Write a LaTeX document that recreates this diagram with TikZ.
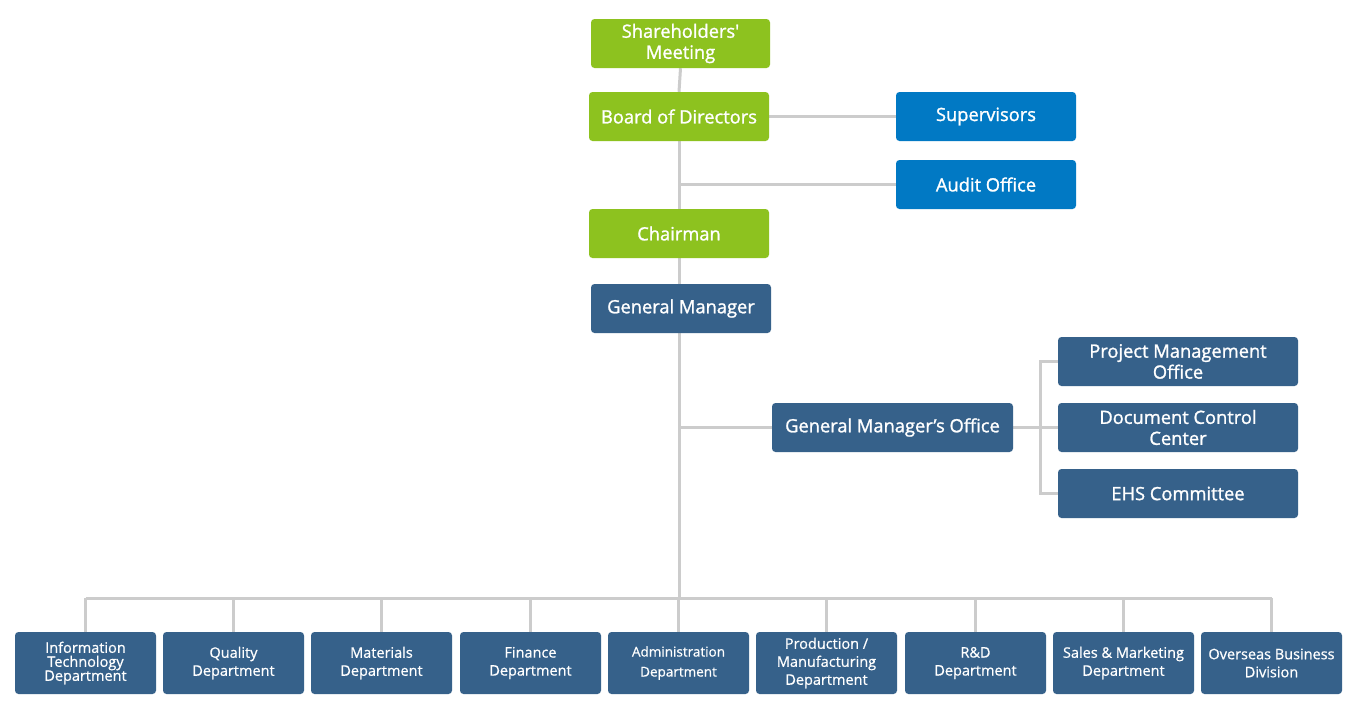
\documentclass[tikz,border=0pt]{standalone}
\usepackage{fontspec}
\setmainfont{Open Sans}
\newfontfamily\topfont[FakeBold=1.3]{Open Sans}
\newfontfamily\deptfont[FakeBold=0.7]{Open Sans}
\usetikzlibrary{backgrounds}
\definecolor{cgreen}{HTML}{8DC21F}
\definecolor{cblue}{HTML}{0179C4}
\definecolor{cdark}{HTML}{36618A}
\definecolor{cline}{HTML}{CCCCCC}
\tikzset{
  x=1pt,y=-1pt,
  box/.style={rounded corners=3.5pt, text=white, align=center, inner sep=0pt, font=\topfont\fontsize{18.3}{21}\selectfont},
  topbox/.style={box, minimum width=180pt, minimum height=49pt},
  greenbox/.style={topbox, fill=cgreen},
  bluebox/.style={topbox, fill=cblue},
  darkbox/.style={box, fill=cdark, minimum height=49pt},
  deptbox/.style={box, fill=cdark, minimum width=141pt, minimum height=62pt, font=\deptfont\fontsize{14.5}{18}\selectfont},
  conn/.style={draw=cline, line width=3pt}
}
\begin{document}
\begin{tikzpicture}
\useasboundingbox (0,0) rectangle (1349,710);
% top chain
\node[greenbox, minimum width=179pt] (sh) at (680.5,43.5) {Shareholders\textquotesingle\\Meeting};
\node[greenbox] (board) at (679,116.5) {Board of Directors};
\node[bluebox] (sup) at (986,116.5) {Supervisors};
\node[bluebox] (audit) at (986,184.5) {Audit Office};
\node[greenbox] (chair) at (679,233.5) {Chairman};
\node[darkbox, minimum width=180pt] (gm) at (681,308.5) {General Manager};
\node[darkbox, minimum width=241pt] (gmo) at (892.5,427.5) {General Manager’s Office};
\node[darkbox, minimum width=240pt] (pmo) at (1178,361.5) {Project Management\\Office};
\node[darkbox, minimum width=240pt] (dcc) at (1178,427.5) {Document Control\\Center};
\node[darkbox, minimum width=240pt] (ehs) at (1178,493.5) {EHS Committee};
% departments
\node[deptbox] (it) at (85.5,663) {Information\\[-4pt]Technology\\[-4pt]Department};
\node[deptbox] (qa) at (233.5,663) {Quality\\Department};
\node[deptbox] (mat) at (381.5,663) {Materials\\Department};
\node[deptbox] (fin) at (530.5,663) {Finance\\Department};
\node[deptbox, font=\deptfont\fontsize{13.5}{20}\selectfont] (adm) at (678.5,663) {Administration\\Department};
\node[deptbox] (prod) at (826.5,663) {Production /\\Manufacturing\\Department};
\node[deptbox] (rd) at (975.5,663) {R\&D\\Department};
\node[deptbox] (sales) at (1123.5,663) {Sales \& Marketing\\Department};
\node[deptbox] (ov) at (1271.5,663) {Overseas Business\\Division};
\coordinate (bus) at (0,598);
\coordinate (br) at (1040,0);
\begin{scope}[on background layer]
\fill[white] (0,0) rectangle (1349,710);
\draw[conn] (sh.south) -- (board.north);
\draw[conn] (board.south) -- (chair.north);
\draw[conn] (chair.south) -- (board.south |- bus);
\draw[conn] (board.east) -- (sup.west);
\draw[conn] (board.south |- audit.west) -- (audit.west);
\draw[conn] (board.south |- gmo.west) -- (gmo.west);
\draw[conn] (gmo.east) -- (dcc.west);
\draw[conn] (pmo.west) -- (pmo.west -| br) -- (ehs.west -| br) -- (ehs.west);
\draw[conn] (it.north |- bus) -- (ov.north |- bus);
\foreach \n in {it,qa,mat,fin,adm,prod,rd,sales,ov}
  \draw[conn] (\n.north) -- (\n.north |- bus);
\end{scope}
\end{tikzpicture}
\end{document}
